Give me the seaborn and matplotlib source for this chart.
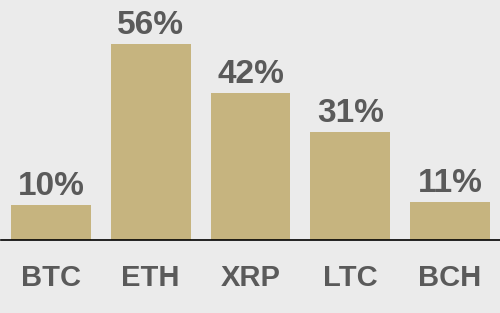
import matplotlib
matplotlib.use("Agg")
import matplotlib.pyplot as plt
import seaborn as sns
import pandas as pd

categories = ["BTC", "ETH", "XRP", "LTC", "BCH"]
values = [10, 56, 42, 31, 11]
labels = ["10%", "56%", "42%", "31%", "11%"]

sns.set_style("white")
plt.rcParams['font.family'] = ['Liberation Sans', 'DejaVu Sans']

bg = "#ebebeb"
bar_color = "#c6b47f"
text_color = "#5a5a5a"

fig = plt.figure(figsize=(5, 3.13), dpi=100, facecolor=bg)
ax = fig.add_axes([0.002, 0.2332, 0.998, 0.7668])
ax.set_facecolor(bg)

df = pd.DataFrame({"cat": categories, "val": values})
sns.barplot(data=df, x="cat", y="val", color=bar_color, width=0.8, ax=ax,
            saturation=1, edgecolor="none")

for i, (v, lab) in enumerate(zip(values, labels)):
    ax.text(i, v + 2.8, lab, ha="center", va="baseline", fontsize=24,
            fontweight="bold", color=text_color)

ax.set_ylim(0, 68.6)
ax.set_xlim(-0.5, 4.5)
ax.set_xlabel("")
ax.set_ylabel("")
ax.set_yticks([])
ax.tick_params(axis="x", length=0, pad=17, labelsize=21, labelcolor=text_color)
for t in ax.get_xticklabels():
    t.set_fontweight("bold")
for s in ["top", "right", "left"]:
    ax.spines[s].set_visible(False)
ax.spines["bottom"].set_color("black")
ax.spines["bottom"].set_linewidth(1.2)

fig.savefig("out.png", dpi=100, facecolor=bg)
